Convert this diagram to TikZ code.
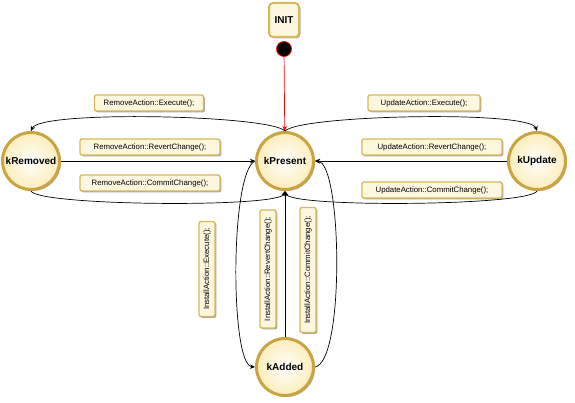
\documentclass[tikz,border=0pt]{standalone}
\usepackage{fontspec}
\setmainfont{Liberation Sans}
\usetikzlibrary{shadows,arrows.meta}
\definecolor{gold}{HTML}{C9A441}
\definecolor{cream}{HTML}{FCEFC2}
\definecolor{boxedge}{HTML}{D8B957}
\definecolor{boxfill}{HTML}{FEF7E0}
\begin{document}
\begin{tikzpicture}[x=1pt,y=-1pt,
  state/.style={circle, draw=gold, line width=3pt, minimum size=57pt, inner sep=0pt,
    fill=cream, font=\bfseries\fontsize{10}{12}\selectfont,
    drop shadow={shadow xshift=1.5pt, shadow yshift=-1.5pt, opacity=0.3, fill=black}},
  initbox/.style={rectangle, rounded corners=4pt, draw=boxedge, line width=2pt, fill=boxfill,
    minimum width=30pt, minimum height=34pt, font=\bfseries\fontsize{10}{12}\selectfont,
    drop shadow={shadow xshift=1.5pt, shadow yshift=-1.5pt, opacity=0.3, fill=black}},
  startdot/.style={circle, fill=black, draw=red, line width=0.7pt, minimum size=15pt, inner sep=0pt},
  lbl/.style={rectangle, rounded corners=2pt, draw=boxedge, line width=1.4pt, fill=boxfill,
    minimum height=16pt, inner sep=2pt, font=\fontsize{7.8}{9}\selectfont,
    drop shadow={shadow xshift=1.3pt, shadow yshift=-1.3pt, opacity=0.35, fill=black}},
  arr/.style={-{Stealth[length=5pt,width=4.5pt]}, line width=0.7pt}]
\useasboundingbox (0,0) rectangle (575,403);

% states: ring with a soft light centre
\foreach \s/\p in {kPresent/{(285,161)}, kRemoved/{(31,161)}, kUpdate/{(537,161)}, kAdded/{(285,367)}}{
  \node[state] (\s) at \p {};
  \shade[inner color=white, outer color=cream] \p circle (25.5pt);
  \node[font=\bfseries\fontsize{10}{12}\selectfont] at \p {\s};
}

% initial pseudo state
\node[initbox] (init) at (284,20) {INIT};
\node[startdot] (start) at (284,49) {};

% transitions
\draw[arr, red] (start) -- (kPresent);
\draw[arr] (kPresent.north) .. controls (270,115) and (40,110) .. (kRemoved.north);
\draw[arr] (kRemoved) -- (kPresent);
\draw[arr] (kRemoved.south) .. controls (38,206) and (280,208) .. (kPresent.south);
\draw[arr] (kPresent.north) .. controls (300,115) and (530,110) .. (kUpdate.north);
\draw[arr] (kUpdate) -- (kPresent);
\draw[arr] (kUpdate.south) .. controls (530,206) and (290,208) .. (kPresent.south);
\draw[arr] (kPresent.west) .. controls (230,172) and (230,365) .. (kAdded.west);
\draw[arr] (kAdded) -- (kPresent);
\draw[arr] (kAdded.east) .. controls (345,362) and (342,163) .. (kPresent.east);

% transition labels
\node[lbl, minimum width=109pt] (lRemExec) at (149,103) {RemoveAction::Execute();};
\node[lbl, minimum width=140pt] (lRemRev) at (150,147) {RemoveAction::RevertChange();};
\node[lbl, minimum width=140pt] (lRemCom) at (150,183) {RemoveAction::CommitChange();};
\node[lbl, minimum width=112pt] (lUpdExec) at (424,103) {UpdateAction::Execute();};
\node[lbl, minimum width=140pt] (lUpdRev) at (432,147) {UpdateAction::RevertChange();};
\node[lbl, minimum width=140pt] (lUpdCom) at (432,190) {UpdateAction::CommitChange();};
\node[lbl, rotate=90, minimum width=95pt] (lInsExec) at (207,269) {InstallAction::Execute();};
\node[lbl, rotate=90, minimum width=118pt] (lInsRev) at (268,269) {InstallAction::RevertChange();};
\node[lbl, rotate=90, minimum width=125pt] (lInsCom) at (308,270) {InstallAction::CommitChange();};
\end{tikzpicture}
\end{document}
